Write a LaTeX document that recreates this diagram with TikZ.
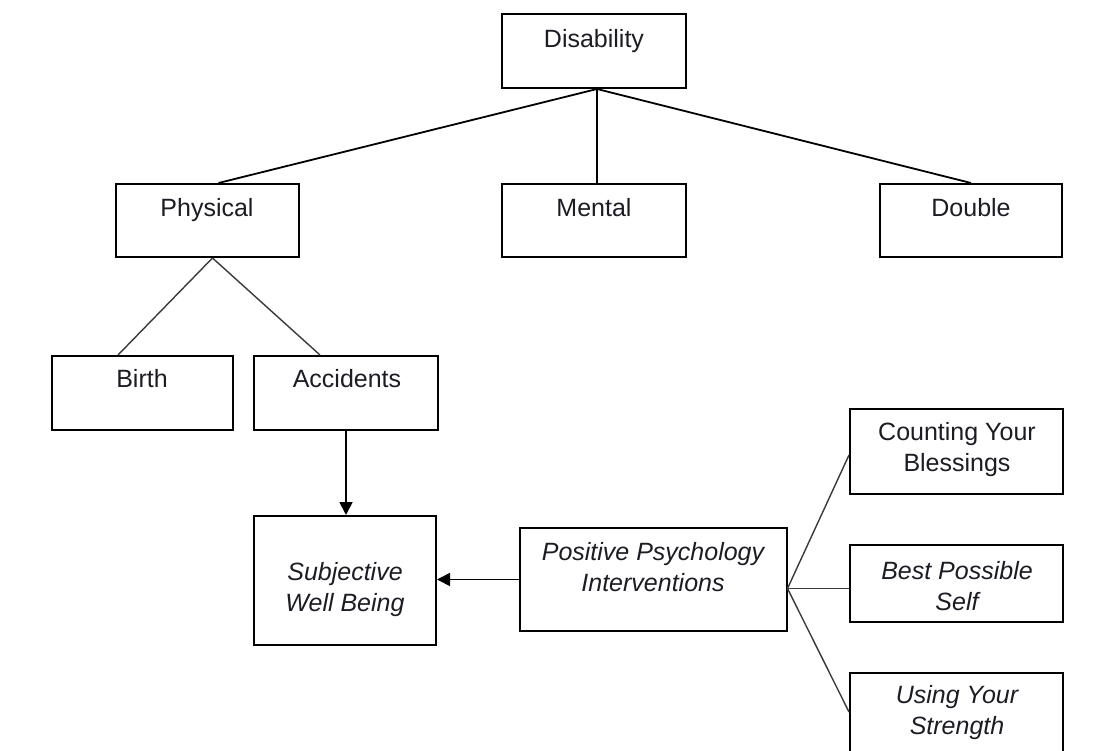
\documentclass[tikz,border=0pt]{standalone}
\usepackage{fontspec}
\setmainfont{Liberation Sans}
\usetikzlibrary{calc,arrows.meta}
\definecolor{textc}{HTML}{1C1C24}
\definecolor{linec}{HTML}{3A3A3A}
\begin{document}
\begin{tikzpicture}[x=1pt,y=-1pt,
  box/.style={draw=black,line width=2pt,inner sep=0pt},
  txt/.style={font=\fontsize{25}{31}\selectfont,text=textc,align=center,inner sep=0pt},
  one/.style={txt,text height=18pt,text depth=5.3pt},
  conn/.style={draw=black,line width=1.8pt},
  thin/.style={draw=linec,line width=1.4pt},
  arr/.style={draw=black,line width=1.8pt,-{Triangle[length=13pt,width=13pt]}}]
\useasboundingbox (0,0) rectangle (1107,751);
\fill[white] (0,0) rectangle (1107,751);
\begin{scope}
\clip (0,0) rectangle (1107,751);
% boxes
\node[box,minimum width=184,minimum height=74] (dis) at (594,51) {};
\node[box,minimum width=183,minimum height=73] (phys) at (207.5,220.5) {};
\node[box,minimum width=184,minimum height=73] (ment) at (594,220.5) {};
\node[box,minimum width=182,minimum height=73] (dbl) at (971,220.5) {};
\node[box,minimum width=181,minimum height=74] (birth) at (142,393) {};
\node[box,minimum width=184,minimum height=74] (acc) at (346,393) {};
\node[box,minimum width=182,minimum height=129] (subj) at (345,580.5) {};
\node[box,minimum width=267,minimum height=103] (ppi) at (653,579.5) {};
\node[box,minimum width=213,minimum height=85] (cnt) at (956.5,451) {};
\node[box,minimum width=213,minimum height=77] (best) at (956.5,583.5) {};
\node[box,minimum width=213,minimum height=90] (use) at (956.5,718) {};
% texts
\node[one] (tdis) at (594,41) {Disability};
\node[one] (tphys) at (207,210.5) {Physical};
\node[one] (tment) at (594,210.5) {Mental};
\node[one] (tdbl) at (971,210.5) {Double};
\node[one] (tbirth) at (142,381.5) {Birth};
\node[one] (tacc) at (347,381.5) {Accidents};
\node[txt] (tsubj) at (345,590) {\itshape Subjective\\\itshape Well Being};
\node[txt] (tppi) at (653,567) {\itshape Positive Psychology\\\itshape Interventions};
\node[txt] (tcnt) at (957,450) {Counting Your\\Blessings};
\node[txt] (tbest) at (957,586) {\itshape Best Possible\\\itshape Self};
\node[txt] (tuse) at (957,713) {\itshape Using Your\\\itshape Strength};
% connectors
\coordinate (dbot) at ($(dis.south)+(3,0)$);
\draw[conn] (dbot) -- ($(phys.north)+(11,0)$);
\draw[conn] (dbot) -- (dbot |- ment.north);
\draw[conn] (dbot) -- (dbl.north);
\coordinate (pbot) at ($(phys.south)+(5,0)$);
\draw[thin] (pbot) -- ($(birth.north)+(-24,0)$);
\draw[thin] (pbot) -- ($(acc.north)+(-26,0)$);
\draw[arr] (acc.south) -- (acc.south |- subj.north);
\draw[arr] (ppi.west) -- (ppi.west -| subj.east);
\coordinate (fan) at ($(ppi.east)+(0,9)$);
\draw[thin] (fan) -- ($(cnt.west)+(0,4)$);
\draw[thin] (fan) -- (fan -| best.west);
\draw[thin] (fan) -- ($(use.west)+(0,-6)$);
\end{scope}
\end{tikzpicture}
\end{document}
